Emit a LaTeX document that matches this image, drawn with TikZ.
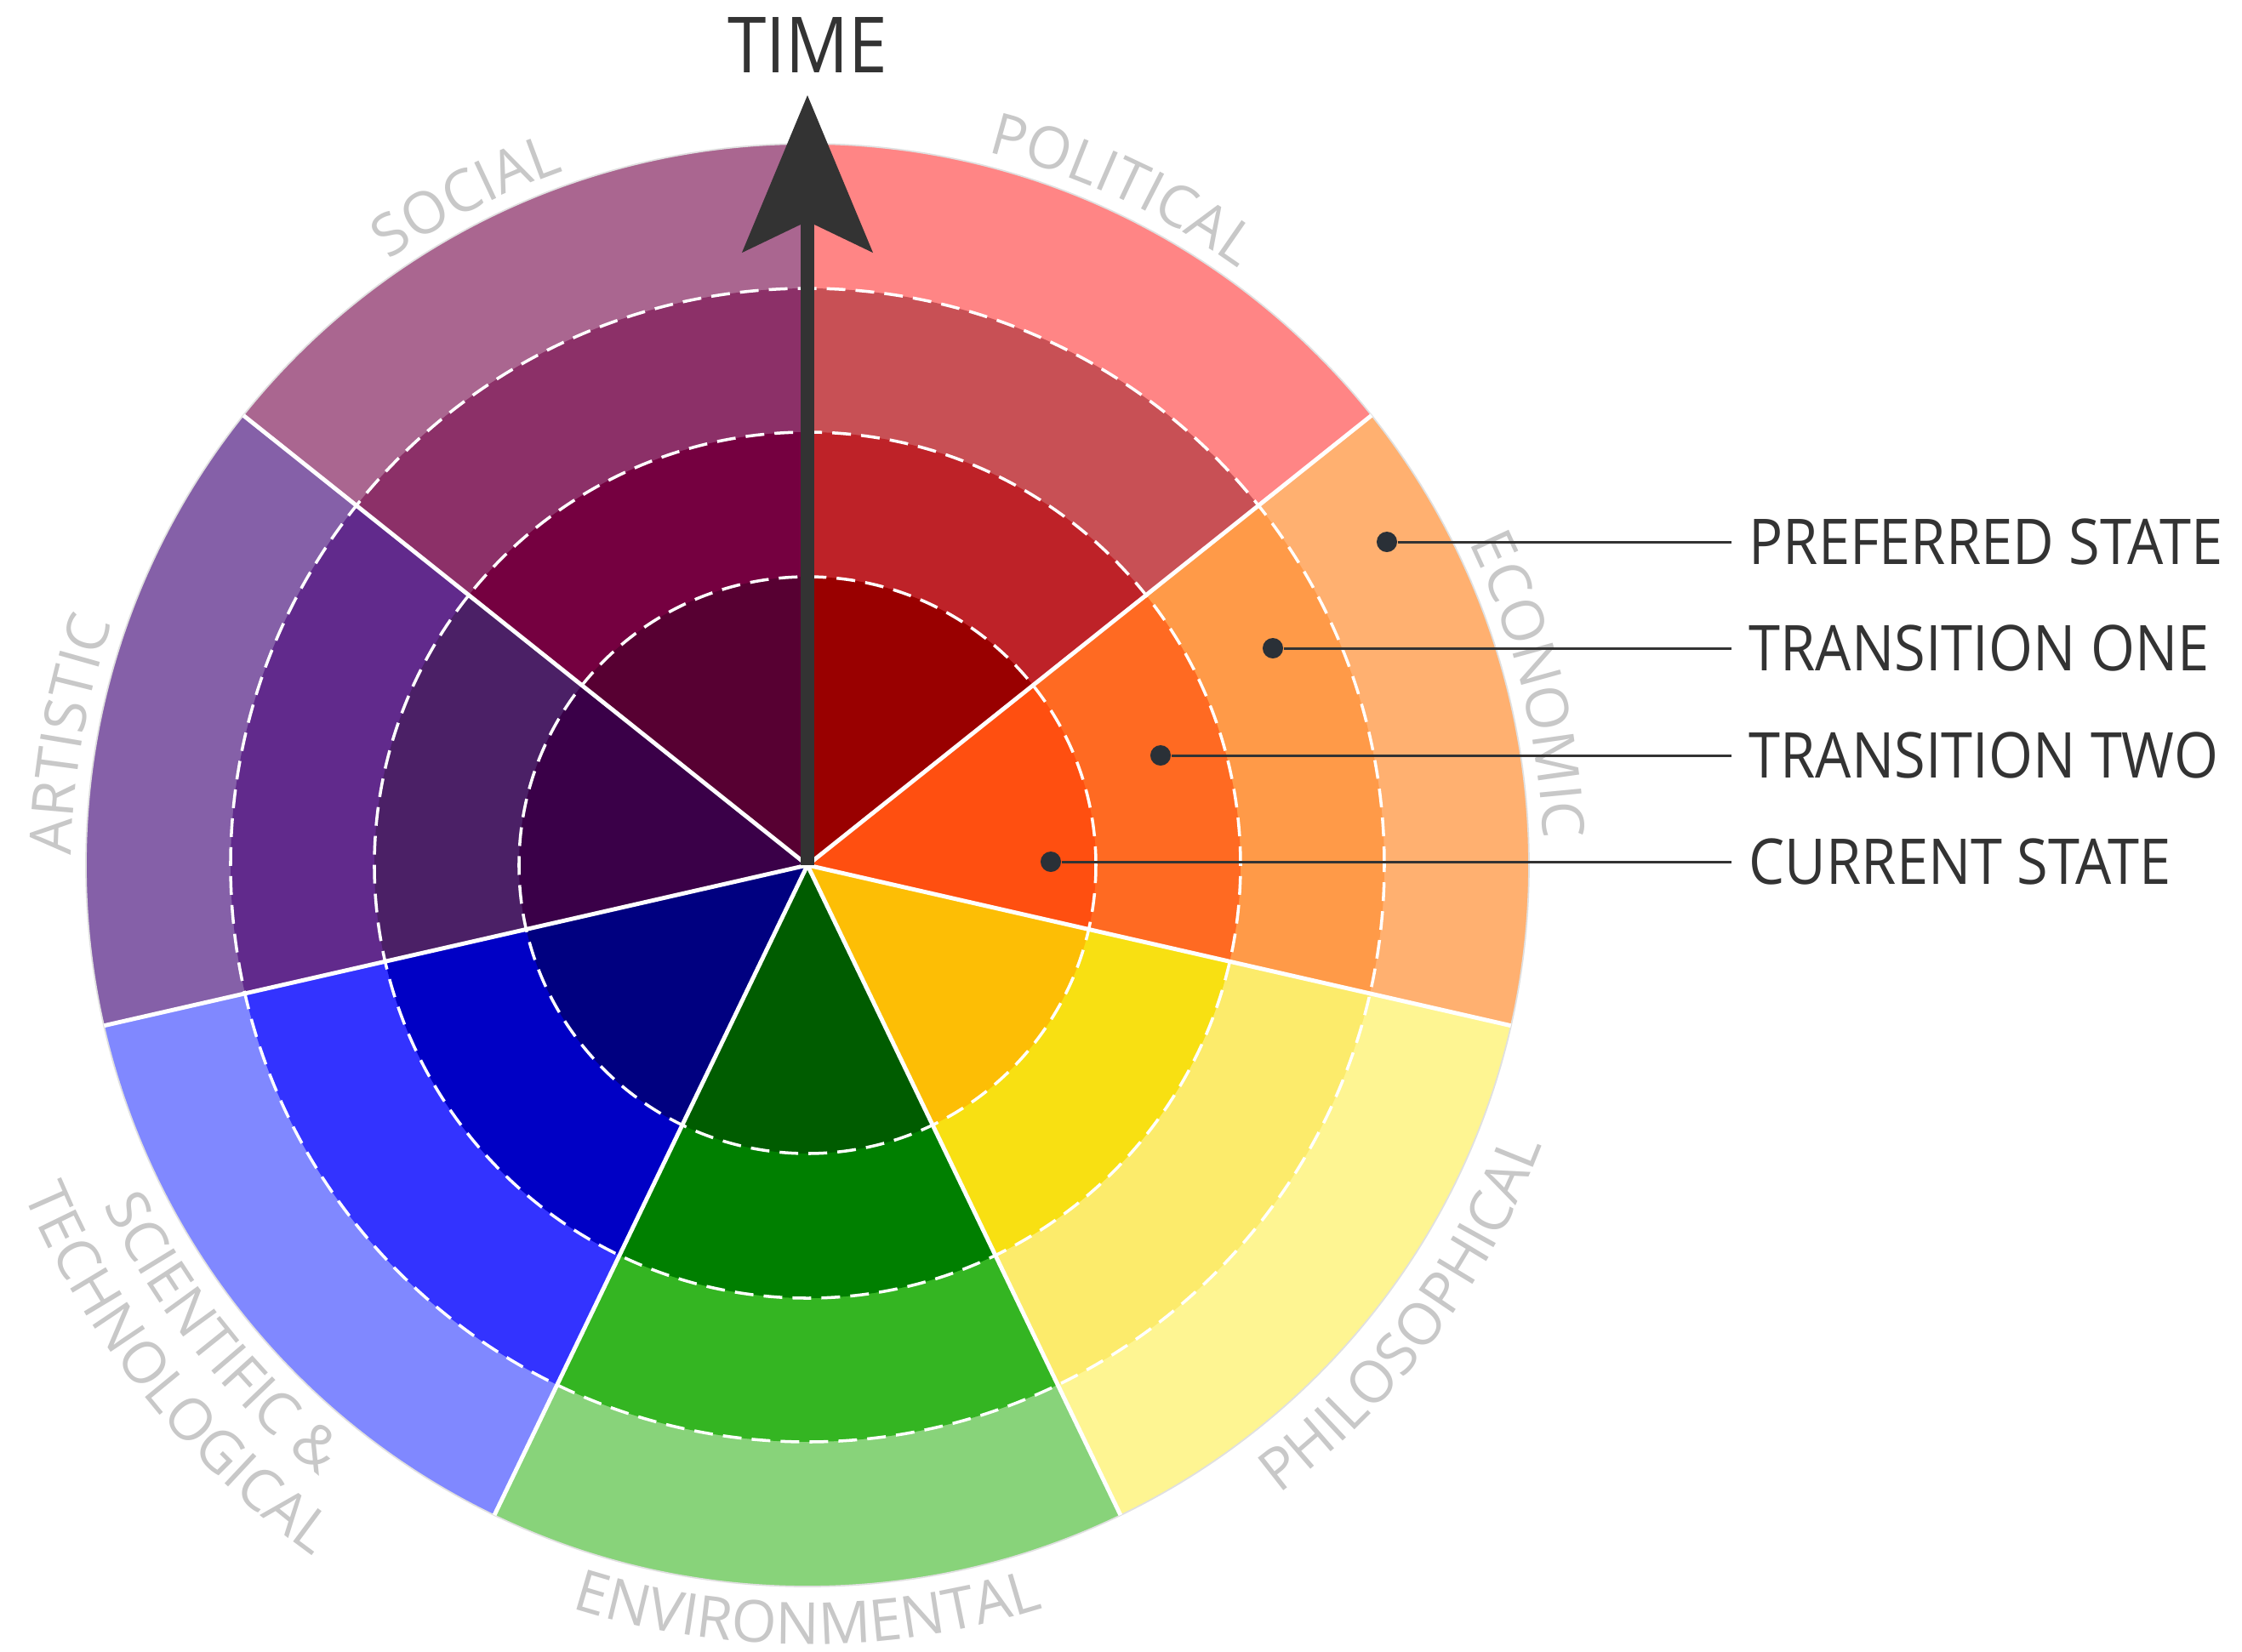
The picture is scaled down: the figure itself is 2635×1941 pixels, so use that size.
\documentclass[tikz,border=0pt]{standalone}
\usepackage{fontspec}
\setmainfont{Open Sans}
\newfontfamily\rimfamily{Open Sans}
\newfontfamily\narrowfamily[FakeStretch=0.9]{Open Sans}
\usetikzlibrary{positioning,arrows.meta,decorations.text}

\definecolor{polA}{HTML}{990000}\definecolor{polB}{HTML}{BE2228}\definecolor{polC}{HTML}{C85055}\definecolor{polD}{HTML}{FF8585}
\definecolor{ecoA}{HTML}{FF4F10}\definecolor{ecoB}{HTML}{FF6A22}\definecolor{ecoC}{HTML}{FF9A48}\definecolor{ecoD}{HTML}{FFB070}
\definecolor{phiA}{HTML}{FDBE05}\definecolor{phiB}{HTML}{F8E012}\definecolor{phiC}{HTML}{FCEB6B}\definecolor{phiD}{HTML}{FEF592}
\definecolor{envA}{HTML}{005C00}\definecolor{envB}{HTML}{007F00}\definecolor{envC}{HTML}{34B522}\definecolor{envD}{HTML}{88D37A}
\definecolor{sciA}{HTML}{000080}\definecolor{sciB}{HTML}{0000C5}\definecolor{sciC}{HTML}{3333FF}\definecolor{sciD}{HTML}{8088FF}
\definecolor{artA}{HTML}{3A0048}\definecolor{artB}{HTML}{4B2066}\definecolor{artC}{HTML}{612A8C}\definecolor{artD}{HTML}{8560A8}
\definecolor{socA}{HTML}{570032}\definecolor{socB}{HTML}{750040}\definecolor{socC}{HTML}{8C3068}\definecolor{socD}{HTML}{AA6690}
\definecolor{inkgray}{HTML}{333333}
\definecolor{dotgray}{HTML}{2A3037}
\definecolor{rimgray}{HTML}{C8C8C8}

\newcommand\rimfont{\rimfamily\fontsize{19.4}{23}\selectfont\color{rimgray}}

\begin{document}
\begin{tikzpicture}[x=0.01cm, y=0.01cm,
	divider/.style={draw=white, line width=1.4pt},
	ringdash/.style={draw=white, line width=1pt, dash pattern=on 0.22cm off 0.12cm},
	timearrow/.style={draw=inkgray, line width=4.8pt, -{Stealth[length=1.85cm, width=1.54cm, inset=0.37cm, line width=0pt]}},
	timelabel/.style={inner sep=0pt, text=inkgray, font=\narrowfamily\fontsize{25.9}{30}\selectfont},
	statedot/.style={circle, fill=dotgray, inner sep=0pt, minimum size=0.24cm},
	statelabel/.style={anchor=west, inner xsep=0.2cm, inner ysep=0pt, text=inkgray, font=\narrowfamily\fontsize{21.1}{25}\selectfont},
	leader/.style={draw=inkgray, line width=0.85pt},
	rimtext/.style={decorate, decoration={text along path, text align=center, text={|\rimfont|#1}}}
]
\useasboundingbox (-949,-924) rectangle (1686,1017);
\coordinate (hub) at (0,0);

% seven sectors, four rings each
\foreach \i/\cD/\cC/\cB/\cA in {0/polD/polC/polB/polA, 1/ecoD/ecoC/ecoB/ecoA, 2/phiD/phiC/phiB/phiA, 3/envD/envC/envB/envA, 4/sciD/sciC/sciB/sciA, 5/artD/artC/artB/artA, 6/socD/socC/socB/socA}{
	\pgfmathsetmacro\a{90-\i*360/7}
	\pgfmathsetmacro\b{\a-360/7}
	\foreach \r/\c in {848/\cD, 678/\cC, 509/\cB, 339/\cA}
		\fill[fill=\c] (hub) -- (\a:\r) arc[start angle=\a, end angle=\b, radius=\r] -- cycle;
}
\draw[draw=black!12, line width=0.5pt] (hub) circle[radius=848];
\foreach \k in {0,...,6} \draw[divider] (hub) -- ({90-\k*360/7}:848);
\foreach \r in {339,509,678} \draw[ringdash] (hub) circle[radius=\r];

% rim labels
\path[rimtext={SOCIAL}] (141:865) arc[start angle=141, end angle=93, radius=865];
\path[rimtext={POLITICAL}] (89:865) arc[start angle=89, end angle=41, radius=865];
\path[rimtext={ECONOMIC}] (38:865) arc[start angle=38, end angle=-10, radius=865];
\path[rimtext={ARTISTIC}] (194:865) arc[start angle=194, end angle=146, radius=865];
\path[rimtext={PHILOSOPHICAL}] (-67:924) arc[start angle=-67, end angle=-7, radius=924];
\path[rimtext={ENVIRONMENTAL}] (-120:916) arc[start angle=-120, end angle=-60, radius=916];
\path[rimtext={SCIENTIFIC {\&}}] (-171.43:919) arc[start angle=-171.43, end angle=-111.43, radius=919];
\path[rimtext={TECHNOLOGICAL}] (-171.43:999) arc[start angle=-171.43, end angle=-111.43, radius=999];

% time axis
\coordinate (timetip) at (0,905);
\draw[timearrow] (hub) -- (timetip);
\node[timelabel, above=0.26cm of timetip] (time) {TIME};

% legend
\foreach \nm/\x/\y/\txt in {pref/681/380/PREFERRED STATE, one/547/255/TRANSITION ONE, two/415/129/TRANSITION TWO, cur/286/4/CURRENT STATE}{
	\node[statedot] (\nm dot) at (\x,\y) {};
	\node[statelabel] (\nm) at (1086,\y) {\txt};
	\draw[leader] (\nm dot) -- (\nm);
}
\end{tikzpicture}
\end{document}
